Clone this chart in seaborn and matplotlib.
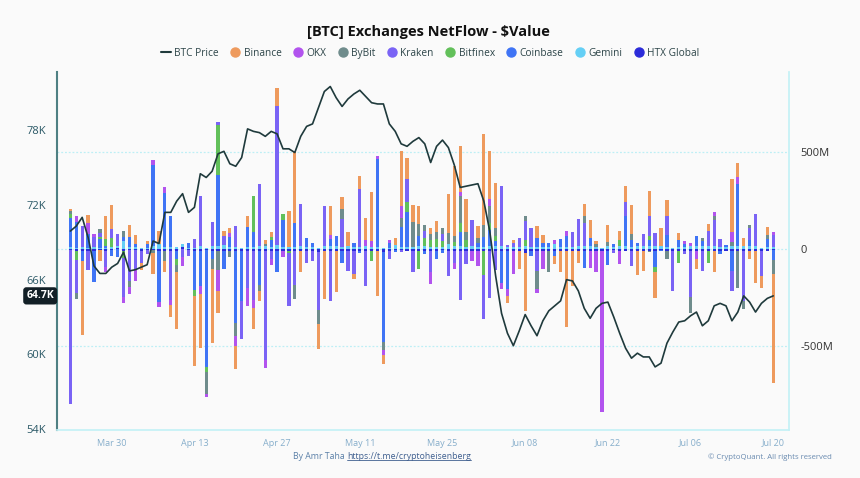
import matplotlib
matplotlib.use("Agg")
import matplotlib.pyplot as plt
import matplotlib.transforms as mtransforms
from matplotlib.lines import Line2D
import numpy as np
import pandas as pd
import seaborn as sns

start_date = "2024-03-23"
tick_labels = ["Mar 30", "Apr 13", "Apr 27", "May 11", "May 25", "Jun 08", "Jun 22", "Jul 06", "Jul 20"]

# BTC price, thousands of USD, one value per day
btc_price = [69.9, 70.3, 71.0, 69.4, 67.1, 66.5, 66.5, 67.0, 67.3, 68.2,
             66.7, 66.8, 67.0, 67.2, 69.1, 68.9, 71.4, 71.4, 72.3, 72.9,
             71.4, 71.8, 74.5, 74.2, 74.7, 76.1, 76.3, 75.3, 75.1, 75.8,
             78.1, 77.9, 77.8, 77.5, 77.9, 77.7, 76.5, 76.5, 76.2, 77.5,
             78.3, 78.5, 79.8, 81.1, 81.5, 80.6, 79.9, 80.5, 80.9, 81.2,
             80.7, 80.2, 80.1, 80.1, 78.5, 77.9, 76.9, 76.7, 77.1, 77.4,
             76.9, 75.4, 76.7, 77.2, 76.6, 75.2, 73.4, 73.5, 73.6, 73.7,
             72.3, 69.9, 66.3, 63.3, 61.7, 60.7, 61.9, 63.2, 62.3, 61.5,
             62.7, 63.5, 63.9, 64.3, 66.0, 65.9, 65.1, 63.7, 62.9, 63.7,
             64.1, 64.2, 63.0, 61.7, 60.5, 59.7, 60.1, 59.8, 59.8, 59.0,
             59.3, 60.9, 61.8, 62.6, 62.7, 63.1, 63.4, 62.3, 62.7, 63.9,
             64.1, 63.9, 62.7, 63.4, 64.7, 64.2, 63.4, 64.1, 64.5, 64.7]

# netflow per exchange, millions of USD
binance = [12, 0, -380, 38, 0, -55, 120, 120, 0, 0,
           60, 45, -40, 15, -110, 70, -60, -60, -290, 0,
           0, -360, -280, 0, -380, -110, 25, 25, -120, 0,
           60, -110, -50, 20, 25, 90, 0, 185, 370, -110,
           0, 0, -130, -250, 150, -210, 60, 70, -25, 65,
           110, 255, -230, -50, 0, 40, 285, 105, 85, 95,
           0, 30, 60, 0, 200, 360, 240, 170, 0, 60,
           470, 250, 230, 0, -35, 15, -90, -300, 0, 65,
           40, 0, -40, -110, -390, -180, -60, 60, 90, 15,
           0, 90, 0, 50, 85, 150, -125, -105, 130, -130,
           90, 80, 0, 35, 0, 0, -50, 0, 40, -110,
           0, 0, 275, 70, 40, -45, -160, -60, 40, -565]
okx = [0, 34, 0, 60, 15, 0, -30, 0, 0, -30,
       -35, -60, 0, 0, 25, -30, 30, -30, 0, -45,
       0, 0, -40, -15, 0, -110, 0, 20, -50, 0,
       -90, -40, 0, -40, -30, 0, -35, 0, 0, 0,
       0, 0, 0, 0, 20, 0, 0, 0, 0, 0,
       30, 30, 15, -25, 15, 0, 60, 0, 0, 0,
       0, -60, 0, 0, 0, -30, 17, 0, -52, -78,
       0, 35, 0, -30, -35, -120, 0, 0, 0, -20,
       -95, 0, 20, 0, 25, 0, 0, 0, -85, -110,
       -830, 0, 0, -70, 0, 0, 0, 0, 0, 0,
       0, 0, 0, 0, 15, 15, -45, 0, 0, 20,
       0, 0, 50, 35, 0, 0, 0, 0, 0, 15]
bybit = [15, -30, 0, 0, 0, 20, 0, 0, 0, 30,
         -30, 0, 0, 0, -15, 0, -50, 0, -40, 0,
         0, 0, 0, -110, -50, -100, 0, -35, -70, 0,
         0, 0, -30, 10, 0, 0, 0, 0, -70, 0,
         0, 0, -70, 0, 0, 0, 50, 0, 0, 0,
         0, 0, 0, -40, 0, 0, 50, 0, 130, 60,
         30, 30, 35, 30, 60, 35, 140, 40, 0, 25,
         60, 85, 40, 0, 0, 0, 0, 25, 0, -90,
         0, -110, 0, 0, 0, 0, 0, 35, 0, 15,
         0, 20, 0, 0, 0, 30, 0, 0, -7, 0,
         0, -45, 0, 0, 0, -80, 0, 20, 0, 20,
         0, 0, 20, -190, -40, 15, 0, 0, 20, -70]
kraken = [-790, -170, 110, -100, 55, 20, -80, 45, 60, -200,
          -160, -100, -60, -20, 0, 0, 0, -250, 0, -40,
          -30, 45, 260, 0, 125, 15, 50, 0, 110, -200,
          -190, -255, 320, -560, -45, 720, 0, -270, -175, 215,
          -60, -50, -300, 210, -255, 0, 145, -100, -120, 300,
          -180, 0, 0, 0, -45, 0, -10, 120, -105, 0,
          40, -110, 0, 35, -130, -62, -250, -70, 135, 0,
          -230, -240, -100, 310, 8, 20, 48, 100, 95, -104,
          0, 0, 0, 0, 0, 80, 140, 120, 0, 0,
          0, 0, -14, 0, 70, -76, 0, 65, 100, 70,
          0, 100, -205, 0, -18, -237, 0, -100, 75, 135,
          40, 0, -100, 0, -256, 60, 165, -130, 0, 60]
bitfinex = [20, -50, 0, 0, 0, 15, 35, 50, 0, -35,
            0, 0, 0, 0, 0, 0, 0, 0, -30, 0,
            0, -30, 0, -30, 0, 260, 0, 0, 0, 0,
            0, 185, 0, 0, 20, 0, 30, -12, 0, 0,
            0, 0, 0, 0, 0, 0, 0, 0, 0, 0,
            0, -50, 0, 0, 0, 0, 0, 50, 0, -95,
            40, 35, 38, 30, 0, 20, 50, 35, 0, 0,
            -120, 40, 30, 0, 0, 0, 0, 30, 0, 0,
            0, 0, 0, 0, 0, 0, 0, 0, 0, 0,
            0, 0, 0, 30, 0, 0, 0, 0, 25, -30,
            0, 0, 0, -60, 0, 0, 0, 0, -60, 0,
            0, 0, 0, 0, 0, 0, 0, 0, 0, 0]
coinbase = [150, 130, -50, 70, -160, 45, 10, -30, -43, 25,
            55, 20, 0, 20, 420, -260, 280, 160, -40, 0,
            23, -200, -180, -600, -45, 365, -90, 50, -370, -255,
            100, 80, -180, 0, 35, -110, 140, 0, 125, 0,
            50, 22, 0, 0, 40, 55, -60, 0, 22, -12,
            0, 0, 455, -465, 25, -10, 100, 180, 0, 55,
            -18, 0, -45, -12, 0, 0, 70, 0, 0, 20,
            50, 80, 25, -166, -195, 0, 0, 0, -28, 45,
            22, 22, -27, 40, 55, 0, 0, -85, 45, 0,
            0, -75, 14, 0, 155, 35, 20, 0, 30, -80,
            -5, 60, 0, 35, 15, 0, 55, 25, 0, 0,
            -18, 8, -105, 320, 0, 35, 0, 0, 40, -50]
gemini = [12, 8, 10, 7, 10, 5, 7, 10, 10, 40,
          9, 9, 5, 8, 15, 25, 10, 10, 10, 16,
          8, 7, 15, 5, 15, 15, 20, 12, 10, 8,
          12, 10, 15, 16, 10, 20, 10, 13, 12, 17,
          10, 12, 8, 14, 14, 14, 12, 16, 12, 10,
          18, 11, 12, 8, 8, 20, 12, 13, 10, 14,
          15, 13, 13, 12, 24, 15, 16, 13, 15, 12,
          13, 17, 15, 14, 12, 13, 12, 17, 13, 10,
          12, 12, 28, 12, 13, 10, 15, 17, 15, 10,
          4, 15, 12, 15, 17, 12, 14, 14, 15, 15,
          17, 13, 8, 13, 10, 16, 14, 15, 17, 14,
          12, 12, 16, 17, 15, 14, 16, 8, 12, 11]
htx = [-6, -8, -10, -10, -10, -5, -10, -5, 7, -10,
       -5, -5, -10, -5, -5, -10, -10, -10, -10, 10,
       -5, -10, -10, -5, -7, -8, -10, -8, -10, -10,
       -12, -8, -7, -10, -8, -10, -8, -10, -10, -10,
       -9, -10, -15, -8, -12, -10, -9, -12, -10, -8,
       -9, -10, -10, -13, -7, -5, -5, -8, -12, -8,
       -7, -10, -7, -6, -8, -8, -11, -7, -8, -8,
       -11, -10, -10, -10, -10, -9, -10, -18, -7, -10,
       -8, -7, -7, -10, -10, -9, -9, -10, -10, -10,
       -10, -8, -6, -7, -10, -10, -9, -7, -8, -10,
       -5, -7, -10, -9, -7, -10, -8, -12, -9, -7,
       -7, -10, -10, -8, -10, -7, -12, -8, -10, -6]

exchanges = ["Binance", "OKX", "ByBit", "Kraken", "Bitfinex", "Coinbase", "Gemini", "HTX Global"]
colors = {
    "Binance": "#ee9a5d",
    "OKX": "#b253ee",
    "ByBit": "#6f8c8c",
    "Kraken": "#7a63f5",
    "Bitfinex": "#62c05a",
    "Coinbase": "#3f74f5",
    "Gemini": "#64cff5",
    "HTX Global": "#2b2bd9",
}
price_color = "#1f3a3c"


def main():
    sns.set_theme(style="white")
    plt.rcParams['font.family'] = ['Open Sans', 'DejaVu Sans']

    flows = pd.DataFrame({
        "Binance": binance, "OKX": okx, "ByBit": bybit, "Kraken": kraken,
        "Bitfinex": bitfinex, "Coinbase": coinbase, "Gemini": gemini, "HTX Global": htx,
    })
    n = len(btc_price)
    idx = np.arange(n)
    dates = pd.date_range(start_date, periods=n)

    # stacks grow from zero outwards: HTX nearest zero, Binance outermost
    from_zero = exchanges[::-1]
    cum_pos = flows[from_zero].clip(lower=0).cumsum(axis=1)
    cum_neg = flows[from_zero].clip(upper=0).cumsum(axis=1)

    fig, ax = plt.subplots(figsize=(8.6, 4.78), dpi=100)
    fig.patch.set_facecolor("#fafafa")
    ax.set_facecolor("#fafafa")
    fig.subplots_adjust(left=0.0663, right=0.9174, top=0.849, bottom=0.100)

    # overdraw cumulative bars, outermost first
    for name in exchanges:
        for cum in (cum_pos, cum_neg):
            sns.barplot(x=idx, y=cum[name].values, color=colors[name], saturation=1,
                        width=0.55, errorbar=None, linewidth=0, edgecolor="none", ax=ax)

    ax2 = ax.twinx()
    sns.lineplot(x=idx, y=btc_price, color=price_color, linewidth=1.2, ax=ax2)

    # netflow axis on the right
    ax.set_ylim(-933, 912)
    ax.set_yticks([-500, 0, 500])
    ax.set_yticklabels(["-500M", "0", "500M"])
    ax.yaxis.tick_right()
    ax.tick_params(axis="y", length=0, pad=8, labelsize=8, labelcolor="#333333",
                   left=False, labelleft=False, right=False, labelright=True)
    ax.yaxis.grid(True, linestyle=(0, (1.5, 1.5)), color="#bdeff5", linewidth=0.9)
    ax.set_axisbelow(True)
    for s in ax.spines.values():
        s.set_visible(False)

    # price axis on the left
    ax2.set_ylim(53.92, 82.65)
    ax2.set_yticks([54, 60, 66, 72, 78])
    ax2.set_yticklabels([f"{v}K" for v in [54, 60, 66, 72, 78]])
    ax2.yaxis.tick_left()
    ax2.tick_params(axis="y", length=0, pad=8, labelsize=8, labelcolor="#2a5866",
                    left=False, labelleft=True, right=False, labelright=False)
    ax2.spines["top"].set_visible(False)
    ax2.spines["left"].set_color("#4f8083")
    ax2.spines["left"].set_linewidth(1.5)
    ax2.spines["right"].set_color("#c4f1f6")
    ax2.spines["bottom"].set_color("#c4f1f6")

    tick_dates = pd.to_datetime([t + " 2024" for t in tick_labels], format="%b %d %Y")
    tick_pos = [(d - dates[0]).days for d in tick_dates]
    for a in (ax, ax2):
        a.set_xlim(-2.26, n - 1 + 2.66)
        a.set_xlabel("")
        a.set_ylabel("")
    ax.set_xticks(tick_pos)
    ax.set_xticklabels(tick_labels)
    ax.tick_params(axis="x", length=3, color="#c4f1f6", labelsize=6.5, labelcolor="#86aecb", pad=3)
    ax2.tick_params(axis="x", length=0, labelbottom=False)

    # current price label
    trans = mtransforms.blended_transform_factory(ax2.transAxes, ax2.transData)
    ax2.text(-0.004, btc_price[-1], f"{btc_price[-1]}K", transform=trans, ha="right", va="center",
             fontsize=7.5, fontweight="bold", color="white",
             bbox=dict(boxstyle="round,pad=0.3", fc="#121f26", ec="none"))

    fig.text(0.498, 0.933, r"[BTC] Exchanges NetFlow - \$Value", ha="center", va="center",
             fontsize=10.5, fontweight="bold", color="#111111")

    handles = [Line2D([0], [0], color=price_color, linewidth=1.5)]
    for name in exchanges:
        handles.append(Line2D([0], [0], marker="o", linestyle="none", markersize=6.5,
                              markerfacecolor=colors[name], markeredgecolor=colors[name]))
    fig.legend(handles, ["BTC Price"] + exchanges, loc="center", bbox_to_anchor=(0.5, 0.889),
               ncol=9, frameon=False, fontsize=7.3, handlelength=1.0, handletextpad=0.35,
               columnspacing=1.1, labelcolor="#2c4448")

    t1 = fig.text(0.4035, 0.046, "By Amr Taha ", ha="right", va="center", fontsize=6.3, color="#5b80a8")
    t2 = fig.text(0.4035, 0.046, "https://t.me/cryptoheisenberg", ha="left", va="center",
                  fontsize=6.3, color="#3f5f8f")
    fig.canvas.draw()
    bb = t2.get_window_extent(fig.canvas.get_renderer()).transformed(fig.transFigure.inverted())
    fig.add_artist(Line2D([bb.x0, bb.x1], [bb.y0 + 0.002, bb.y0 + 0.002], color="#3f5f8f",
                          linewidth=0.6, transform=fig.transFigure))
    fig.text(0.895, 0.044, "© CryptoQuant. All rights reserved", ha="center", va="center",
             fontsize=5.6, color="#6a8bb0")

    fig.savefig("out.png", dpi=100, facecolor=fig.get_facecolor())


if __name__ == "__main__":
    main()
